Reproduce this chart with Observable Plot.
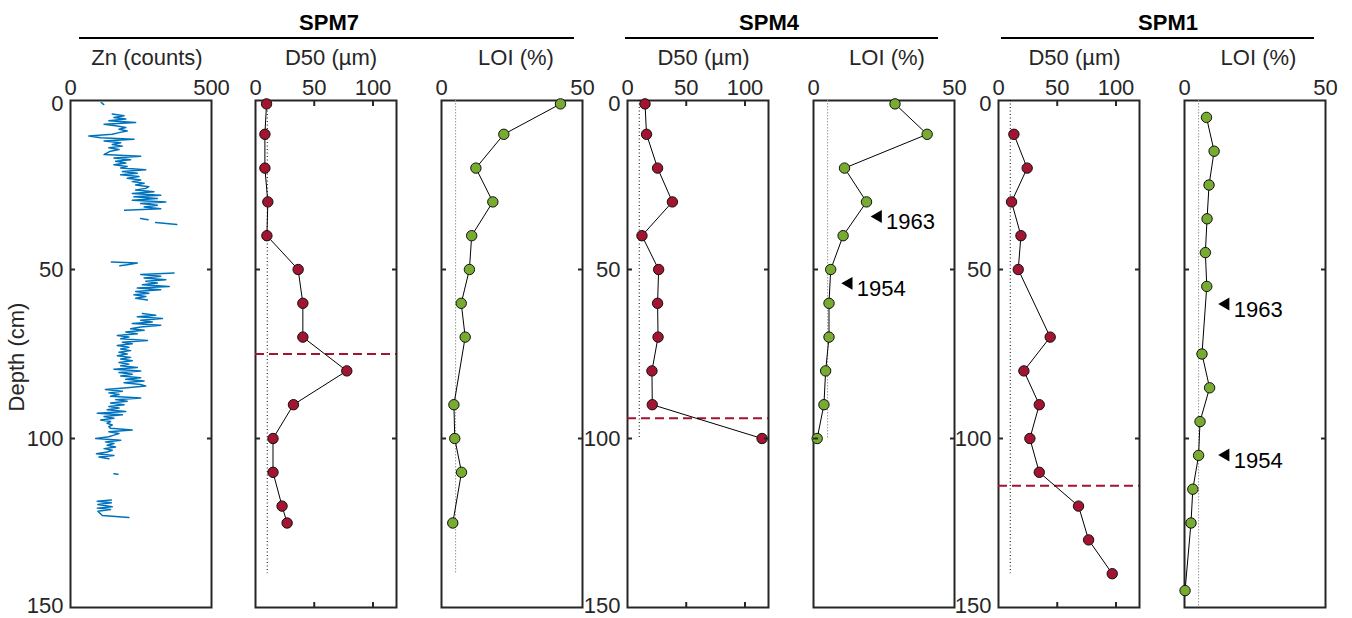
<!DOCTYPE html>
<html><head><meta charset="utf-8">
<script src="https://cdn.jsdelivr.net/npm/d3@7"></script>
<script src="https://cdn.jsdelivr.net/npm/@observablehq/plot@0.6"></script>
<style>
body{margin:0;background:#fff;font-family:"Liberation Sans",Arial,Helvetica,sans-serif;}
#wrap{position:relative;width:1352px;height:618px;overflow:hidden;background:#fff;}
.abs{position:absolute;white-space:nowrap;line-height:22px;}
.grp{font-weight:bold;font-size:22px;color:#000;transform:translateX(-50%);}
.ttl{font-size:22px;color:#262626;transform:translateX(-50%);}
.ytl{font-size:22px;color:#262626;transform:translate(-50%,-50%) rotate(-90deg);}
.rule{height:2px;background:#000;}
svg{overflow:visible;}
</style></head><body><div id="wrap"></div>
<script>
// ---------------- DATA ----------------
const groupNames = ["SPM7", "SPM4", "SPM1"];
const panelTitles = ["Zn (counts)", "D50 (µm)", "LOI (%)", "D50 (µm)", "LOI (%)", "D50 (µm)", "LOI (%)"];
const depthTopTick = [0];
const depthMidTicks = [50, 100];
const depthBottomTick = [150];
const depthInnerTicks = [50, 100];
const znTicks = [0, 500];
const d50Ticks = [0, 50, 100];
const d50InnerTicks = [50, 100];
const loiTicks = [0, 50];

// Zn XRF scan, SPM7 (null = gap in the record)
const znDepth = [
  0.6, 1.2, 2,
  4, 4.5, 5, 5.5, 6, 6.5, 7, 7.5, 8, 8.5, 9, 9.5, 10, 10.5, 11, 11.5, 12, 12.5, 13, 13.5, 14, 14.5, 15, 15.5, 16, 16.5, 17, 17.5, 18, 18.5, 19, 19.5, 20, 20.5, 21, 21.5, 22, 22.5, 23, 23.5, 24, 24.5, 25, 25.5, 26, 26.5, 27, 27.5, 28, 28.5, 29, 29.5, 30, 30.5, 31, 31.5, 32, 32.5,
  33.5, 34.9, 35.3, 35.7, 36.1, 36.7, 40,
  47.8, 48.1, 48.5, 48.9, 50,
  51, 51.5, 52, 52.5, 53, 53.5, 54, 54.5, 55, 55.5, 56, 56.5, 57, 57.5, 58, 58.5, 59,
  61,
  63, 63.5, 64, 64.5, 65, 65.5, 66, 66.5, 67, 67.5, 68, 68.5, 69, 69.5, 70, 70.5, 71, 71.5, 72, 72.5, 73, 73.5, 74, 74.5, 75, 75.5,
  76, 76.5, 77, 77.5, 78, 78.5, 79, 79.5, 80, 80.5, 81, 81.5, 82, 82.5, 83, 83.5, 84, 84.5, 85, 85.5, 86, 86.5, 87, 87.5, 88, 88.5, 89, 89.5, 90, 90.5,
  91, 91.5, 92, 92.5, 93, 93.5, 94, 94.5, 95, 95.5, 96, 96.5, 97, 97.5, 98, 98.5, 99, 99.5, 100, 100.5, 101, 101.5, 102, 102.5, 103, 103.5, 104, 104.5, 105, 105.5, 106,
  108, 110.4, 110.6, 114,
  118.2, 118.6, 119, 119.5, 120.2, 120.6, 121, 121.5, 122.8, 123.4
];
const znCounts = [
  109, 118, null,
  148, 190, 154, 196, 136, 231, 119, 160, 196, 172, 201, 172, 148, 65, 107, 225, 119, 178, 148, 184, 136, 172, 142, 130, 119, 249, 154, 213, 160, 196, 154, 201, 178, 267, 184, 237, 178, 243, 201, 249, 219, 261, 231, 278, 267, 231, 296, 219, 320, 225, 308, 219, 338, 249, 308, 261, 320, 192,
  null, 249, 275, null, 302, 377, null,
  145, 237, 207, 175, null,
  367, 249, 320, 261, 338, 267, 308, 255, 350, 237, 320, 231, 278, 225, 267, 231, 273,
  null,
  255, 302, 237, 326, 249, 290, 219, 320, 249, 213, 261, 196, 237, 166, 207, 178, 273, 184, 219, 166, 207, 178, 213, 172, 201, 166,
  213, 178, 219, 172, 207, 178, 237, 154, 249, 172, 219, 178, 249, 196, 261, 190, 249, 267, 201, 124, 184, 136, 172, 142, 249, 160, 201, 142, 190, 136,
  172, 130, 196, 95, 184, 119, 154, 107, 142, 130, 148, 136, 142, 219, 136, 172, 154, 136, 89, 178, 124, 154, 130, 160, 119, 148, 130, 92, 154, 101, 136,
  null, 154, 168, null,
  145, 95, 145, 97, 148, 95, 142, 97, 113, 207
];

// SPM7
const spm7D50Depth = [1, 10, 20, 30, 40, 50, 60, 70, 80, 90, 100, 110, 120, 125];
const spm7D50 = [9.4, 8, 8, 10.5, 9.7, 36.3, 40.3, 40.3, 77.7, 32.3, 14.9, 14.9, 22.6, 26.9];
const spm7LoiDepth = [1, 10, 20, 30, 40, 50, 60, 70, 90, 100, 110, 125];
const spm7Loi = [42.2, 22.1, 12.2, 18.2, 10.7, 9.9, 7.0, 8.4, 4.4, 4.7, 7.1, 4.0];
const spm7Boundary = [75];
const spm7RefDepth = [0, 140];

// SPM4
const spm4Depth = [1, 10, 20, 30, 40, 50, 60, 70, 80, 90, 100];
const spm4D50 = [14.9, 16.2, 25.6, 38.2, 12.3, 26.5, 25.6, 26.0, 20.8, 21.1, 114.5];
const spm4Loi = [28.9, 40.3, 11.0, 18.8, 10.5, 6.1, 5.5, 5.5, 4.3, 3.7, 1.3];
const spm4Boundary = [94];
const spm4RefDepth = [0, 100];
const spm4DateLabels = ["1963", "1954"];
const spm4DateDepth = [34.3, 54.1];
const spm4DateLoi = [22.9, 12.5];

// SPM1
const spm1D50Depth = [10, 20, 30, 40, 50, 70, 80, 90, 100, 110, 120, 130, 140];
const spm1D50 = [13.1, 24.4, 11.1, 19.1, 16.8, 44.0, 21.6, 34.7, 26.7, 34.7, 68.1, 76.7, 96.8];
const spm1LoiDepth = [5, 15, 25, 35, 45, 55, 75, 85, 95, 105, 115, 125, 145];
const spm1Loi = [7.8, 10.5, 8.7, 8.0, 7.4, 7.9, 6.2, 8.9, 5.5, 5.0, 2.95, 2.3, 0.2];
const spm1Boundary = [114];
const spm1D50RefDepth = [0, 140];
const spm1LoiRefDepth = [0, 150];
const spm1DateLabels = ["1963", "1954"];
const spm1DateDepth = [60.2, 104.9];
const spm1DateLoi = [14.6, 14.6];

// background reference values
const d50Background = 10;
const loiBackground = 5;

// ---------------- LAYOUT / STYLE ----------------
const FONT = '"Liberation Sans", Arial, Helvetica, sans-serif';
const INK = "#262626";
const RED = "#A2142F";
const GREEN = "#77AC30";
const BLUE = "#0072BD";
const wrap = document.getElementById("wrap");

const rows = (ds, vs) => ds.map((d, i) => ({depth: d, v: vs[i]}));
const dates = (labels, ds, vs) => labels.map((l, i) => ({label: l, depth: ds[i], v: vs[i]}));

function panel(cfg) {
  const ML = 60, MR = 45, FW = 141, H = 548;
  const marks = [Plot.frame({stroke: INK, strokeWidth: 2})];
  if (cfg.ref) {
    marks.push(Plot.ruleX([{x: cfg.ref.x, y1: cfg.ref.y[0], y2: cfg.ref.y[1]}], {
      x: "x", y1: "y1", y2: "y2", stroke: cfg.ref.color, strokeWidth: 1, strokeDasharray: cfg.ref.dash
    }));
  }
  if (cfg.boundary) {
    marks.push(Plot.ruleY(cfg.boundary, {stroke: RED, strokeWidth: 2, strokeDasharray: "9,5"}));
  }
  if (cfg.zn) {
    marks.push(Plot.line(cfg.zn, {x: "v", y: "depth", stroke: BLUE, strokeWidth: 1.5}));
  }
  if (cfg.points) {
    marks.push(Plot.line(cfg.points, {x: "v", y: "depth", stroke: "#000", strokeWidth: 1}));
    marks.push(Plot.dot(cfg.points, {x: "v", y: "depth", r: 5.2, fill: cfg.color, stroke: "#111", strokeWidth: 1}));
  }
  if (cfg.dates) {
    marks.push(Plot.dot(cfg.dates, {x: "v", y: "depth", symbol: "triangle", rotate: -90, r: 4.8, fill: "#000", stroke: "none"}));
    marks.push(Plot.text(cfg.dates, {x: "v", y: "depth", text: "label", dx: 8, dy: 6, textAnchor: "start", fontSize: 22, fill: "#000"}));
  }
  // axes
  marks.push(Plot.axisX({anchor: "top", ticks: cfg.xTicks, tickSize: 0, tickPadding: 6, label: null, fill: INK, tickFormat: d => String(d)}));
  if (cfg.xInner && cfg.xInner.length) {
    marks.push(Plot.axisX({anchor: "top", ticks: cfg.xInner, tickSize: -5, strokeWidth: 2, stroke: INK, fill: "none", label: null}));
    marks.push(Plot.axisX({anchor: "bottom", ticks: cfg.xInner, tickSize: -5, strokeWidth: 2, stroke: INK, fill: "none", label: null}));
  }
  marks.push(Plot.axisY({anchor: "left", ticks: depthInnerTicks, tickSize: -5, strokeWidth: 2, stroke: INK, fill: "none", label: null}));
  marks.push(Plot.axisY({anchor: "right", ticks: depthInnerTicks, tickSize: -5, strokeWidth: 2, stroke: INK, fill: "none", label: null}));
  if (cfg.yLabels) {
    const lab = {anchor: "left", tickSize: 0, tickPadding: 7, label: null, fill: INK, tickFormat: d => String(d)};
    marks.push(Plot.axisY({...lab, ticks: depthTopTick, dy: 3}));
    marks.push(Plot.axisY({...lab, ticks: depthMidTicks}));
    marks.push(Plot.axisY({...lab, ticks: depthBottomTick, dy: -2}));
  }
  const svg = Plot.plot({
    width: ML + FW + MR, height: H,
    marginLeft: ML, marginRight: MR, marginTop: 30, marginBottom: 11,
    x: {domain: cfg.xDomain, label: null},
    y: {domain: [0, 150], reverse: true, label: null},
    style: {fontFamily: FONT, fontSize: "22px", color: INK, background: "transparent", overflow: "visible"},
    marks
  });
  svg.style.position = "absolute";
  svg.style.left = (cfg.left - ML) + "px";
  svg.style.top = "70px";
  wrap.appendChild(svg);
}

const frameLefts = [70, 255, 441, 627, 812.5, 998, 1184];
const titleCenters = [147, 331, 516, 703.5, 887, 1074.5, 1258.5];
const groupCenters = [329, 769, 1168];
const groupRules = [[79, 574], [625, 938], [1001, 1314]];

const d50Ref = (y) => ({x: d50Background, y, color: "#000", dash: "1,2.5"});
const loiRef = (y) => ({x: loiBackground, y, color: "#999", dash: "1.5,1.5"});

panel({left: frameLefts[0], xDomain: [0, 500], xTicks: znTicks, yLabels: true, zn: rows(znDepth, znCounts)});
panel({left: frameLefts[1], xDomain: [0, 120], xTicks: d50Ticks, xInner: d50InnerTicks, points: rows(spm7D50Depth, spm7D50), color: RED, boundary: spm7Boundary, ref: d50Ref(spm7RefDepth)});
panel({left: frameLefts[2], xDomain: [0, 50], xTicks: loiTicks, points: rows(spm7LoiDepth, spm7Loi), color: GREEN, ref: loiRef(spm7RefDepth)});
panel({left: frameLefts[3], xDomain: [0, 120], xTicks: d50Ticks, xInner: d50InnerTicks, yLabels: true, points: rows(spm4Depth, spm4D50), color: RED, boundary: spm4Boundary, ref: d50Ref(spm4RefDepth)});
panel({left: frameLefts[4], xDomain: [0, 50], xTicks: loiTicks, points: rows(spm4Depth, spm4Loi), color: GREEN, ref: loiRef(spm4RefDepth), dates: dates(spm4DateLabels, spm4DateDepth, spm4DateLoi)});
panel({left: frameLefts[5], xDomain: [0, 120], xTicks: d50Ticks, xInner: d50InnerTicks, yLabels: true, points: rows(spm1D50Depth, spm1D50), color: RED, boundary: spm1Boundary, ref: d50Ref(spm1D50RefDepth)});
panel({left: frameLefts[6], xDomain: [0, 50], xTicks: loiTicks, points: rows(spm1LoiDepth, spm1Loi), color: GREEN, ref: loiRef(spm1LoiRefDepth), dates: dates(spm1DateLabels, spm1DateDepth, spm1DateLoi)});

function addDiv(cls, text, left, top) {
  const d = document.createElement("div");
  d.className = "abs " + cls;
  d.style.left = left + "px";
  d.style.top = top + "px";
  if (text != null) d.textContent = text;
  wrap.appendChild(d);
  return d;
}
groupNames.forEach((g, i) => addDiv("grp", g, groupCenters[i], 12));
groupRules.forEach(([a, b]) => { const d = addDiv("rule", null, a, 37); d.style.width = (b - a) + "px"; });
panelTitles.forEach((t, i) => addDiv("ttl", t, titleCenters[i], 46.5));
addDiv("ytl", "Depth (cm)", 17, 357);
</script>
</body></html>
